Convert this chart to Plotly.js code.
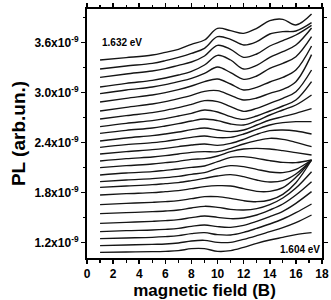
<!DOCTYPE html>
<html><head><meta charset="utf-8">
<script src="https://cdn.plot.ly/plotly-3.0.1.min.js"></script>
<style>html,body{margin:0;padding:0;background:#fff;}#plot{width:331px;height:300px;}</style>
</head><body><div id="plot"></div>
<script>
// magnetic field values (B)
const B = [1,3,5,6,7,8,9,10,11,12,13,14,15,16,17.2];
// PL spectra, units of 1e-9 arb.un., top (1.632 eV) to bottom (1.604 eV)
const c1  = [3.392,3.420,3.452,3.484,3.520,3.580,3.632,3.772,3.744,3.712,3.772,3.864,3.880,3.812,3.944];
const c2  = [3.284,3.320,3.352,3.384,3.424,3.472,3.532,3.672,3.640,3.572,3.612,3.704,3.732,3.740,3.840];
const c3  = [3.184,3.224,3.260,3.288,3.328,3.368,3.440,3.568,3.520,3.424,3.464,3.560,3.624,3.692,3.808];
const c4  = [3.068,3.112,3.148,3.176,3.212,3.256,3.332,3.448,3.392,3.284,3.328,3.424,3.492,3.572,3.776];
const c5  = [2.988,3.032,3.068,3.096,3.132,3.172,3.232,3.308,3.240,3.160,3.200,3.292,3.352,3.432,3.672];
const c6  = [2.888,2.932,2.972,3.000,3.036,3.080,3.132,3.164,3.104,3.032,3.064,3.128,3.184,3.272,3.560];
const c7  = [2.780,2.824,2.864,2.892,2.928,2.968,3.016,3.024,2.968,2.912,2.936,2.992,3.040,3.132,3.456];
const c8  = [2.684,2.724,2.760,2.788,2.820,2.860,2.904,2.892,2.832,2.776,2.812,2.872,2.932,3.012,3.272];
const c9  = [2.592,2.632,2.664,2.688,2.720,2.752,2.792,2.768,2.712,2.680,2.720,2.780,2.840,2.912,3.132];
const c10 = [2.512,2.548,2.576,2.600,2.628,2.660,2.684,2.664,2.624,2.612,2.664,2.732,2.792,2.852,2.972];
const c11 = [2.420,2.456,2.484,2.504,2.528,2.556,2.576,2.552,2.532,2.552,2.612,2.672,2.712,2.752,2.808];
const c12 = [2.344,2.376,2.400,2.416,2.440,2.464,2.480,2.460,2.464,2.504,2.560,2.612,2.640,2.652,2.652];
const c13 = [2.264,2.292,2.316,2.332,2.352,2.372,2.384,2.368,2.392,2.440,2.500,2.544,2.552,2.540,2.504];
const c14 = [2.180,2.208,2.228,2.244,2.264,2.284,2.292,2.292,2.332,2.384,2.424,2.452,2.440,2.404,2.352];
const c15 = [2.100,2.124,2.144,2.160,2.176,2.200,2.208,2.240,2.292,2.324,2.332,2.324,2.304,2.280,2.252];
const c16 = [2.012,2.036,2.052,2.068,2.084,2.104,2.120,2.172,2.224,2.232,2.212,2.184,2.164,2.160,2.192];
const c17 = [1.932,1.952,1.968,1.980,1.996,2.020,2.040,2.092,2.124,2.112,2.080,2.048,2.040,2.080,2.192];
const c18 = [1.864,1.880,1.896,1.908,1.920,1.944,1.972,2.000,2.016,1.992,1.952,1.928,1.944,2.024,2.192];
const c19 = [1.772,1.788,1.800,1.812,1.824,1.848,1.872,1.884,1.880,1.848,1.816,1.816,1.860,1.984,2.192];
const c20 = [1.656,1.672,1.684,1.692,1.704,1.728,1.752,1.752,1.732,1.704,1.692,1.712,1.780,1.920,2.192];
const c21 = [1.548,1.560,1.572,1.580,1.592,1.616,1.636,1.624,1.600,1.592,1.608,1.656,1.736,1.856,2.052];
const c22 = [1.432,1.444,1.456,1.464,1.476,1.500,1.520,1.504,1.488,1.496,1.532,1.592,1.664,1.772,1.932];
const c23 = [1.332,1.344,1.352,1.360,1.372,1.396,1.412,1.392,1.384,1.408,1.456,1.512,1.576,1.672,1.812];
const c24 = [1.248,1.256,1.264,1.272,1.284,1.308,1.320,1.296,1.292,1.324,1.372,1.424,1.484,1.560,1.664];
const c25 = [1.164,1.172,1.180,1.184,1.196,1.220,1.228,1.204,1.204,1.240,1.284,1.332,1.380,1.440,1.532];
const c26 = [1.084,1.088,1.092,1.096,1.104,1.128,1.128,1.096,1.104,1.144,1.192,1.232,1.264,1.296,1.320];
const curves = [c1,c2,c3,c4,c5,c6,c7,c8,c9,c10,c11,c12,c13,c14,c15,c16,c17,c18,c19,c20,c21,c22,c23,c24,c25,c26];
// axis ticks
const yTickVals = [1.2e-9, 1.8e-9, 2.4e-9, 3.0e-9, 3.6e-9];
const yTickText = ['1.2x10<sup>-9</sup>','1.8x10<sup>-9</sup>','2.4x10<sup>-9</sup>','3.0x10<sup>-9</sup>','3.6x10<sup>-9</sup>'];
const xTickVals = [0,2,4,6,8,10,12,14,16,18];
const labels = ['1.632 eV', '1.604 eV'];

const traces = curves.map(c => ({
  x: B, y: c.map(v => v * 1e-9), type: 'scatter', mode: 'lines',
  line: {color: '#151515', width: 1.4, shape: 'spline', smoothing: 1},
  hoverinfo: 'skip', showlegend: false
}));

const F = 'Liberation Sans, Arial, sans-serif';
const layout = {
  width: 331, height: 300,
  margin: {l: 87, r: 9, t: 9, b: 42},
  paper_bgcolor: '#fff', plot_bgcolor: '#fff',
  showlegend: false,
  xaxis: {
    range: [0, 18], tickvals: xTickVals, ticktext: xTickVals.map(v => '<b>' + v + '</b>'),
    ticks: 'outside', ticklen: 4, tickwidth: 1.5, tickcolor: '#000',
    minor: {tickmode: 'linear', tick0: 0, dtick: 1, ticks: 'outside', ticklen: 2.5, tickwidth: 1.2, tickcolor: '#000'},
    showline: true, linewidth: 2, linecolor: '#000', mirror: 'ticks',
    showgrid: false, zeroline: false,
    tickfont: {family: F, size: 12, color: '#000'},
    title: {text: '<b>magnetic field (B)</b>', font: {family: F, size: 17, color: '#000'}, standoff: 3}
  },
  yaxis: {
    range: [1.016e-9, 4.004e-9], tickvals: yTickVals, ticktext: yTickText.map(t => '<b>' + t + '</b>'),
    ticks: 'outside', ticklen: 4, tickwidth: 1.5, tickcolor: '#000',
    minor: {tickmode: 'linear', tick0: 0, dtick: 0.3e-9, ticks: 'outside', ticklen: 2.5, tickwidth: 1.2, tickcolor: '#000'},
    showline: true, linewidth: 2, linecolor: '#000', mirror: 'ticks',
    showgrid: false, zeroline: false,
    tickfont: {family: F, size: 12, color: '#000'},
    title: {text: '<b>PL (arb.un.)</b>', font: {family: F, size: 19, color: '#000'}, standoff: 4}
  },
  annotations: [
    {x: 1, y: 3.6e-9, xref: 'x', yref: 'y', text: '<b>' + labels[0] + '</b>', showarrow: false,
     xanchor: 'left', yanchor: 'middle', font: {family: F, size: 10, color: '#000'}},
    {x: 1, xref: 'paper', y: 1.12e-9, yref: 'y', text: '<b>' + labels[1] + '</b>', showarrow: false,
     xanchor: 'right', yanchor: 'middle', font: {family: F, size: 10, color: '#000'}}
  ]
};
Plotly.newPlot('plot', traces, layout, {staticPlot: true, displayModeBar: false});
</script></body></html>
